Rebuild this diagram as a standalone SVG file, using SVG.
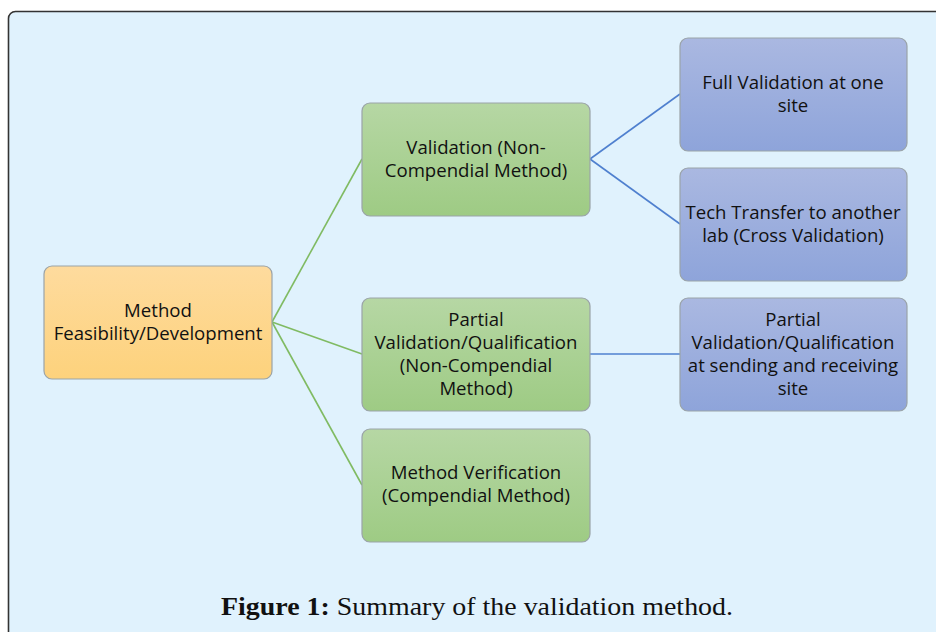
<svg xmlns="http://www.w3.org/2000/svg" width="936" height="632" viewBox="0 0 936 632">
<defs>
<linearGradient id="gO" x1="0" y1="0" x2="0" y2="1"><stop offset="0" stop-color="#fedb9e"/><stop offset="1" stop-color="#fdd27c"/></linearGradient>
<linearGradient id="gG" x1="0" y1="0" x2="0" y2="1"><stop offset="0" stop-color="#b6d7a4"/><stop offset="1" stop-color="#9ecb84"/></linearGradient>
<linearGradient id="gB" x1="0" y1="0" x2="0" y2="1"><stop offset="0" stop-color="#aab8e1"/><stop offset="1" stop-color="#8ea4da"/></linearGradient>
<style>
.box{stroke:#9aa3a8;stroke-width:1.2}
.o{fill:url(#gO)}.g{fill:url(#gG)}.b{fill:url(#gB)}
.t{font-family:"Open Sans","Liberation Sans",sans-serif;font-size:18.6px;fill:#111;text-anchor:middle}
.cg{stroke:#80bb63;stroke-width:1.6;fill:none}
.cb{stroke:#4f80cf;stroke-width:1.6;fill:none}
.cap{font-family:"Liberation Serif","DejaVu Serif",serif;font-size:26px;fill:#111}
</style>
</defs>
<rect x="0" y="0" width="936" height="632" fill="#ffffff"/>
<rect x="8.5" y="11.5" width="940" height="640" rx="7" fill="#e0f2fd" stroke="#333" stroke-width="1.6"/>
<g id="connectors">
<line class="cg" x1="272" y1="322" x2="362" y2="159"/>
<line class="cg" x1="272" y1="322" x2="362" y2="354"/>
<line class="cg" x1="272" y1="322" x2="362" y2="485"/>
<line class="cb" x1="590" y1="159" x2="680" y2="94"/>
<line class="cb" x1="590" y1="159" x2="680" y2="224"/>
<line class="cb" x1="590" y1="354" x2="680" y2="354"/>
</g>
<g id="n-method">
<rect class="box o" x="44" y="266" width="228" height="113" rx="8"/>
<text class="t" x="158" y="317">Method</text>
<text class="t" x="158" y="340">Feasibility/Development</text>
</g>
<g id="n-validation">
<rect class="box g" x="362" y="103" width="228" height="113" rx="8"/>
<text class="t" x="476" y="154">Validation (Non-</text>
<text class="t" x="476" y="177">Compendial Method)</text>
</g>
<g id="n-partial">
<rect class="box g" x="362" y="298" width="228" height="113" rx="8"/>
<text class="t" x="476" y="326">Partial</text>
<text class="t" x="476" y="349">Validation/Qualification</text>
<text class="t" x="476" y="372">(Non-Compendial</text>
<text class="t" x="476" y="395">Method)</text>
</g>
<g id="n-verification">
<rect class="box g" x="362" y="429" width="228" height="113" rx="8"/>
<text class="t" x="476" y="479">Method Verification</text>
<text class="t" x="476" y="502">(Compendial Method)</text>
</g>
<g id="n-full">
<rect class="box b" x="680" y="38" width="227" height="113" rx="8"/>
<text class="t" x="793" y="89">Full Validation at one</text>
<text class="t" x="793" y="112">site</text>
</g>
<g id="n-tech">
<rect class="box b" x="680" y="168" width="227" height="113" rx="8"/>
<text class="t" x="793" y="219">Tech Transfer to another</text>
<text class="t" x="793" y="242">lab (Cross Validation)</text>
</g>
<g id="n-partial-site">
<rect class="box b" x="680" y="298" width="227" height="113" rx="8"/>
<text class="t" x="793" y="326">Partial</text>
<text class="t" x="793" y="349">Validation/Qualification</text>
<text class="t" x="793" y="372">at sending and receiving</text>
<text class="t" x="793" y="395">site</text>
</g>
<text class="cap" x="221" y="615" textLength="512" lengthAdjust="spacingAndGlyphs"><tspan font-weight="bold">Figure 1:</tspan> Summary of the validation method.</text>
</svg>
